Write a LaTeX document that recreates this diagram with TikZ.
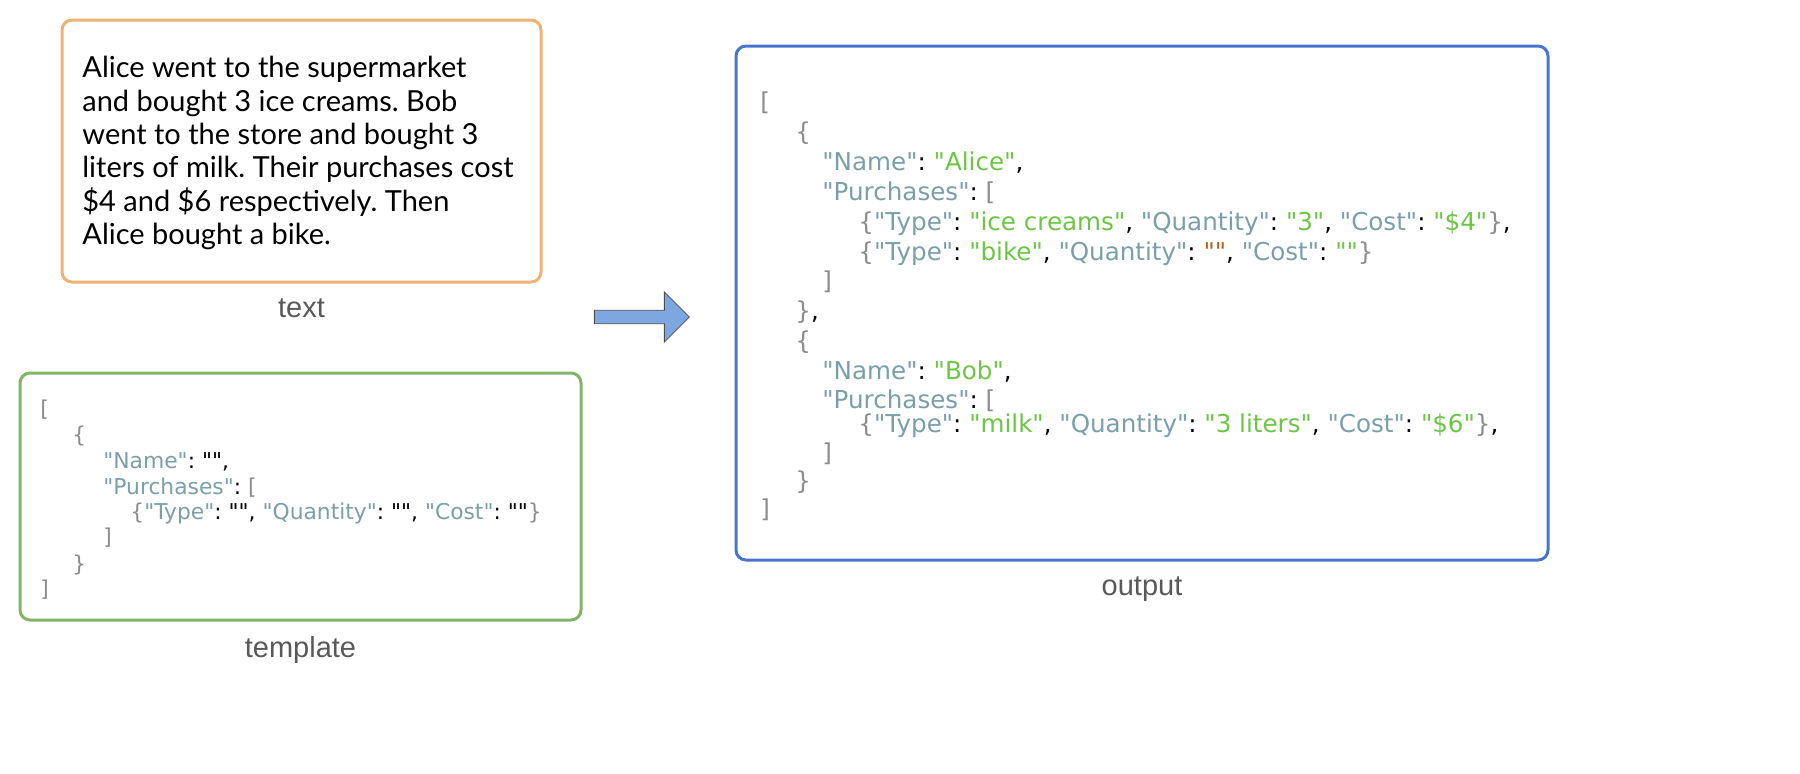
\documentclass[tikz,border=0pt]{standalone}
\usepackage{fontspec}
\setmainfont{Lato}
\newfontfamily\codefont{DejaVu Sans}
\newfontfamily\labfont{Liberation Sans}
\usetikzlibrary{positioning}
\usetikzlibrary{shapes.arrows}
\definecolor{keyc}{HTML}{7A9FA8}
\definecolor{valc}{HTML}{6CC644}
\definecolor{punc}{HTML}{8C8C8C}
\definecolor{emptyc}{HTML}{B5651D}
\definecolor{orangec}{HTML}{EDB374}
\definecolor{greenc}{HTML}{82B366}
\definecolor{bluec}{HTML}{4A75CF}
\definecolor{arrowc}{HTML}{7EA6E0}
\newcommand{\Ky}[1]{\textcolor{keyc}{"#1"}}
\newcommand{\Vl}[1]{\textcolor{valc}{"#1"}}
\newcommand{\Pn}[1]{\textcolor{punc}{#1}}
\tikzset{
  box/.style = {draw, line width=1.5pt, rounded corners=5pt, inner sep=0pt},
  lab/.style = {font=\labfont\fontsize{14.5}{16}\selectfont, text=black!65},
  outline/.style = {anchor=base west, inner sep=0pt, font=\codefont\fontsize{12.3}{14}\selectfont},
  tplline/.style = {anchor=base west, inner sep=0pt, font=\codefont\fontsize{10.9}{12}\selectfont},
  node distance = 6pt
}
\begin{document}
\frenchspacing
\begin{tikzpicture}[x=0.5pt, y=-0.5pt]
    \useasboundingbox (0,0) rectangle (1800,773);
    % boxes
    \node [box, draw=orangec, minimum width=239.5pt, minimum height=131pt] (txtbox) at (301.5,151) {};
    \node [box, draw=greenc, minimum width=280.5pt, minimum height=123.5pt] (tplbox) at (300.5,496.5) {};
    \node [box, draw=bluec, minimum width=406pt, minimum height=257pt] (outbox) at (1142,303) {};
    % labels
    \node [lab, below = 4pt of txtbox] (txtlab) {text};
    \node [lab, below = 4pt of tplbox] (tpllab) {template};
    \node [lab, below = 4pt of outbox] (outlab) {output};
    % arrow
    \node [single arrow, draw=black!70, fill=arrowc, minimum height=47.5pt, minimum width=25pt,
           single arrow head extend=6pt, inner sep=2pt] (arr) at (638.5,317) {};
    % text
    \node [anchor=north west, align=left, inner sep=0pt,
           font=\fontsize{14.5}{16.7}\selectfont] (story) at (82,56)
      {Alice went to the supermarket\\and bought 3 ice creams. Bob\\went to the store and bought 3\\liters of milk. Their purchases cost\\\$4 and \$6 respectively. Then\\Alice bought a bike.};
    % template
    \node [tplline] (t1) at (40,416) {\Pn{[}};
    \node [tplline] (t2) at (72,442) {\Pn{\{}};
    \node [tplline] (t3) at (103,468) {\Ky{Name}: "",};
    \node [tplline] (t4) at (103,494) {\Ky{Purchases}: \Pn{[}};
    \node [tplline] (t5) at (130,519) {\Pn{\{}\Ky{Type}: "", \Ky{Quantity}: "", \Ky{Cost}: ""\Pn{\}}};
    \node [tplline] (t6) at (103,544) {\Pn{]}};
    \node [tplline] (t7) at (72,571) {\Pn{\}}};
    \node [tplline] (t8) at (40,596) {\Pn{]}};
    % output
    \node [outline] (o1) at (760,110) {\Pn{[}};
    \node [outline] (o2) at (795,140) {\Pn{\{}};
    \node [outline] (o3) at (822,170) {\Ky{Name}: \Vl{Alice},};
    \node [outline] (o4) at (822,200) {\Ky{Purchases}: \Pn{[}};
    \node [outline] (o5) at (858,230) {\Pn{\{}\Ky{Type}: \Vl{ice creams}, \Ky{Quantity}: \Vl{3}, \Ky{Cost}: \Vl{\$4}\Pn{\}},};
    \node [outline] (o6) at (858,260) {\Pn{\{}\Ky{Type}: \Vl{bike}, \Ky{Quantity}: \textcolor{emptyc}{""}, \Ky{Cost}: \Vl{}\Pn{\}}};
    \node [outline] (o7) at (822,289) {\Pn{]}};
    \node [outline] (o8) at (795,319) {\Pn{\}},};
    \node [outline] (o9) at (795,349) {\Pn{\{}};
    \node [outline] (o10) at (822,379) {\Ky{Name}: \Vl{Bob},};
    \node [outline] (o11) at (822,408) {\Ky{Purchases}: \Pn{[}};
    \node [outline] (o12) at (858,432) {\Pn{\{}\Ky{Type}: \Vl{milk}, \Ky{Quantity}: \Vl{3 liters}, \Ky{Cost}: \Vl{\$6}\Pn{\}},};
    \node [outline] (o13) at (822,461) {\Pn{]}};
    \node [outline] (o14) at (795,489) {\Pn{\}}};
    \node [outline] (o15) at (760,517) {\Pn{]}};
\end{tikzpicture}
\end{document}
